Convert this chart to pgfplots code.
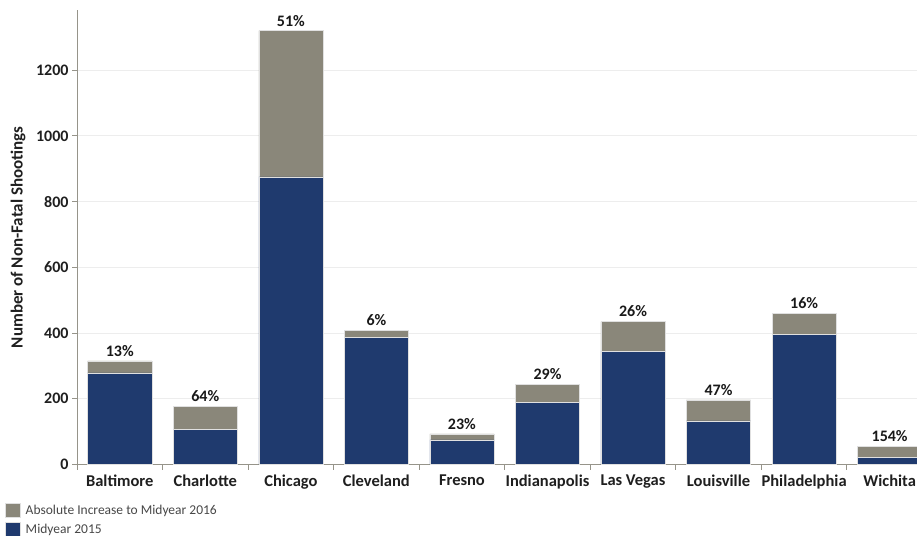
\documentclass[border=0pt]{standalone}
\usepackage{pgfplots}
\usepackage{pgfplotstable}
\pgfplotsset{compat=1.18}
\usepackage{fontspec}
\setmainfont{Carlito}
\definecolor{navy}{RGB}{31,58,110}
\definecolor{taupe}{RGB}{138,135,122}
\definecolor{axgray}{RGB}{150,148,138}

\pgfplotstableread{
x base inc total pct
0 279 36 315 13
1 107 70 177 64
2 875 445 1320 51
3 387 21 408 6
4 75 18 93 23
5 189 54 243 29
6 345 90 435 26
7 133 64 197 47
8 396 64 460 16
9 22 34 56 154
}\data

\begin{document}
\begin{tikzpicture}
\useasboundingbox (0,0) rectangle (917pt,535pt);
\begin{axis}[
  at={(77pt,70.5pt)}, anchor=south west,
  scale only axis, width=840pt, height=454.5pt,
  ybar stacked, bar width=0.75,
  xmin=-0.5, xmax=9.32, ymin=0, ymax=1383,
  axis x line*=bottom, axis y line*=left,
  axis line style={axgray, line width=1pt},
  xtick={-0.5,0.5,1.5,2.5,3.5,4.5,5.5,6.5,7.5,8.5},
  xticklabels={},
  extra x ticks={0,1,2,3,4,5,6,7,8,9},
  extra x tick labels={Baltimore,Charlotte,Chicago,Cleveland,Fresno,Indianapolis,Las Vegas,Louisville,Philadelphia,Wichita},
  extra x tick style={major tick length=0pt, grid=none, tick label style={yshift=-7pt}},
  ytick={0,200,...,1200},
  ymajorgrids, grid style={black!7, line width=0.8pt},
  tick style={axgray, line width=0.8pt},
  tick align=outside, major tick length=5pt,
  tick label style={font=\bfseries\fontsize{16.5}{16.5}\selectfont, text=black!88},
  yticklabel style={font=\bfseries\fontsize{16}{16}\selectfont},
  /pgf/number format/assume math mode=true,
  yticklabel style={/pgf/number format/1000 sep={}},
  ylabel={Number of Non-Fatal Shootings},
  ylabel style={at={(axis description cs:-0.0702,0.5)}, anchor=center, font=\bfseries\fontsize{17}{17}\selectfont, text=black!88},
  legend style={at={(axis description cs:-0.0857,-0.0847)}, anchor=north west, draw=none, fill=none,
    font=\fontsize{13.5}{13.5}\selectfont, text=black!72, row sep=4pt, inner sep=0pt, legend cell align=left,
    nodes={inner xsep=5pt}},
  legend image code/.code={\fill[#1] (0pt,-6.5pt) rectangle (15pt,7pt);},
  reverse legend,
]
\addplot[fill=navy, draw=black!12, line width=0.5pt] table[x=x, y=base] {\data};
\addplot[fill=taupe, draw=black!12, line width=0.5pt] table[x=x, y=inc] {\data};
\legend{Midyear 2015, Absolute Increase to Midyear 2016}
\end{axis}
\begin{axis}[
  at={(77pt,70.5pt)}, anchor=south west,
  scale only axis, width=840pt, height=454.5pt,
  xmin=-0.5, xmax=9.32, ymin=0, ymax=1383,
  hide axis, clip=false,
]
\addplot[only marks, mark=none,
  nodes near coords={\pgfplotspointmeta\%},
  point meta=explicit symbolic,
  every node near coord/.style={font=\bfseries\fontsize{16}{16}\selectfont, text=black!90, anchor=south, yshift=1pt}
] table[x=x, y=total, meta=pct] {\data};
\end{axis}
\end{tikzpicture}
\end{document}
